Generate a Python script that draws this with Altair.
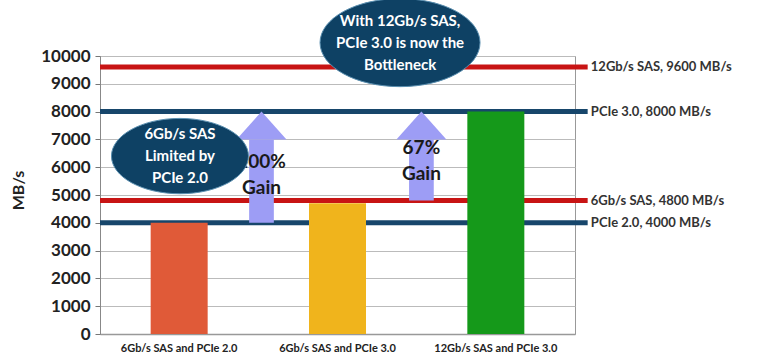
import altair as alt
import pandas as pd

categories = ["6Gb/s SAS and PCIe 2.0", "6Gb/s SAS and PCIe 3.0", "12Gb/s SAS and PCIe 3.0"]
bar_values = [4000, 4700, 8000]
bar_colors = ["#e05a38", "#f0b41c", "#15991a"]

limit_labels = ["12Gb/s SAS, 9600 MB/s", "PCIe 3.0, 8000 MB/s", "6Gb/s SAS, 4800 MB/s", "PCIe 2.0, 4000 MB/s"]
limit_values = [9600, 8000, 4800, 4000]
limit_colors = ["#c81414", "#17466b", "#c81414", "#17466b"]

gain_labels = ["100%\nGain", "67%\nGain"]
gain_from = [4000, 4800]
gain_to = [8000, 8000]
gain_pos = [1.02, 2.03]
gain_text_y = [5720, 6240]

note_texts = ["6Gb/s SAS\nLimited by\nPCIe 2.0", "With 12Gb/s SAS,\nPCIe 3.0 is now the\nBottleneck"]
note_x = [0.505, 1.895]
note_y = [6400, 10480]
note_w = [137, 160]

y_ticks = [0, 1000, 2000, 3000, 4000, 5000, 6000, 7000, 8000, 9000, 10000]

FONT = "Lato"
ydom = alt.Scale(domain=[0, 10000], nice=False)
xq = alt.Scale(domain=[0, 3], nice=False, zero=False)

bars_df = pd.DataFrame({"cat": categories, "v": bar_values, "c": bar_colors})
lim_df = pd.DataFrame({"label": limit_labels, "v": limit_values, "c": limit_colors,
                       "x0": 0.0, "x1": 3.08, "xt": 3.1})
gain_df = pd.DataFrame({"label": gain_labels, "y0": gain_from, "y1": gain_to,
                        "x": gain_pos, "ty": gain_text_y})
gain_df["xl"] = gain_df["x"] - 0.078
gain_df["xr"] = gain_df["x"] + 0.078
gain_df["shaft_top"] = gain_df["y1"] - 1000
gain_df["head_y"] = gain_df["y1"] - 500
note_df = pd.DataFrame({"t": note_texts, "x": note_x, "y": note_y, "w": note_w})
note_df["size"] = note_df["w"] ** 2

yaxis = alt.Axis(title="MB/s", values=y_ticks, format="d", labelOverlap=False,
                 labelFont=FONT, labelFontSize=17, labelFontWeight="bold",
                 labelColor="#222", labelPadding=5, tickSize=5, tickColor="#777",
                 domainColor="#888", gridColor="#bbbbbb", grid=True,
                 titleFont=FONT, titleFontSize=16, titleFontWeight="bold",
                 titleColor="#222", titleX=-82, titleY=134, titleAngle=-90,
                 titleAlign="center", titleBaseline="middle")


def Y(field):
    return alt.Y(field, scale=ydom, axis=yaxis)


bars = alt.Chart(bars_df).mark_bar().encode(
    x=alt.X("cat:N", sort=categories,
            scale=alt.Scale(paddingInner=0.64, paddingOuter=0.32),
            axis=alt.Axis(title=None, labelAngle=0, labelFont=FONT, labelFontSize=11,
                          labelFontWeight="bold", labelColor="#222", labelPadding=8,
                          ticks=False, domainColor="#999", domainWidth=1.5)),
    y=Y("v:Q"),
    color=alt.Color("c:N", scale=None),
)

lines = alt.Chart(lim_df).mark_rule(strokeWidth=5).encode(
    x=alt.X("x0:Q", scale=xq, axis=None), x2="x1:Q",
    y=Y("v:Q"), color=alt.Color("c:N", scale=None),
)
line_labels = alt.Chart(lim_df).mark_text(align="left", baseline="middle", font=FONT,
                                          fontSize=13, fontWeight="bold", color="#333").encode(
    x=alt.X("xt:Q", scale=xq, axis=None), y=Y("v:Q"), text="label:N",
)

shaft = alt.Chart(gain_df).mark_rect(color="#9d9df5").encode(
    x=alt.X("xl:Q", scale=xq, axis=None), x2="xr:Q",
    y=Y("y0:Q"), y2="shaft_top:Q",
)
head = alt.Chart(gain_df).mark_point(shape="M0,-0.56 L1,0.56 L-1,0.56 Z", filled=True,
                                     opacity=1, color="#9d9df5", size=2500).encode(
    x=alt.X("x:Q", scale=xq, axis=None), y=Y("head_y:Q"),
)
gain_text = alt.Chart(gain_df).mark_text(align="center", baseline="middle", font=FONT,
                                         fontSize=19, fontWeight="bold", color="#1a1a1a",
                                         lineBreak="\n", lineHeight=26, dy=-13).encode(
    x=alt.X("x:Q", scale=xq, axis=None), y=Y("ty:Q"), text="label:N",
)

ellipses = alt.Chart(note_df).mark_point(
    shape="M-1,0 A1,0.55 0 1,1 1,0 A1,0.55 0 1,1 -1,0 Z", filled=True, opacity=1,
    color="#0e4164", stroke="#5a8fb0", strokeWidth=1).encode(
    x=alt.X("x:Q", scale=xq, axis=None), y=Y("y:Q"),
    size=alt.Size("size:Q", scale=None),
)
note_text = alt.Chart(note_df).mark_text(align="center", baseline="middle", font=FONT,
                                         fontSize=15, fontWeight="bold", color="white",
                                         lineBreak="\n", lineHeight=22, dy=-22).encode(
    x=alt.X("x:Q", scale=xq, axis=None), y=Y("y:Q"), text="t:N",
)

chart = alt.layer(lines, bars, shaft, head, gain_text, ellipses, note_text,
                  line_labels).resolve_scale(x="independent").properties(
    width=475, height=278,
    autosize=alt.AutoSizeParams(type="none"),
    padding={"left": 100, "top": 56, "right": 193, "bottom": 22},
    background="white",
).configure_view(stroke="#999", strokeWidth=1)

chart.save("out.html", embed_options={"renderer": "svg", "actions": False})
